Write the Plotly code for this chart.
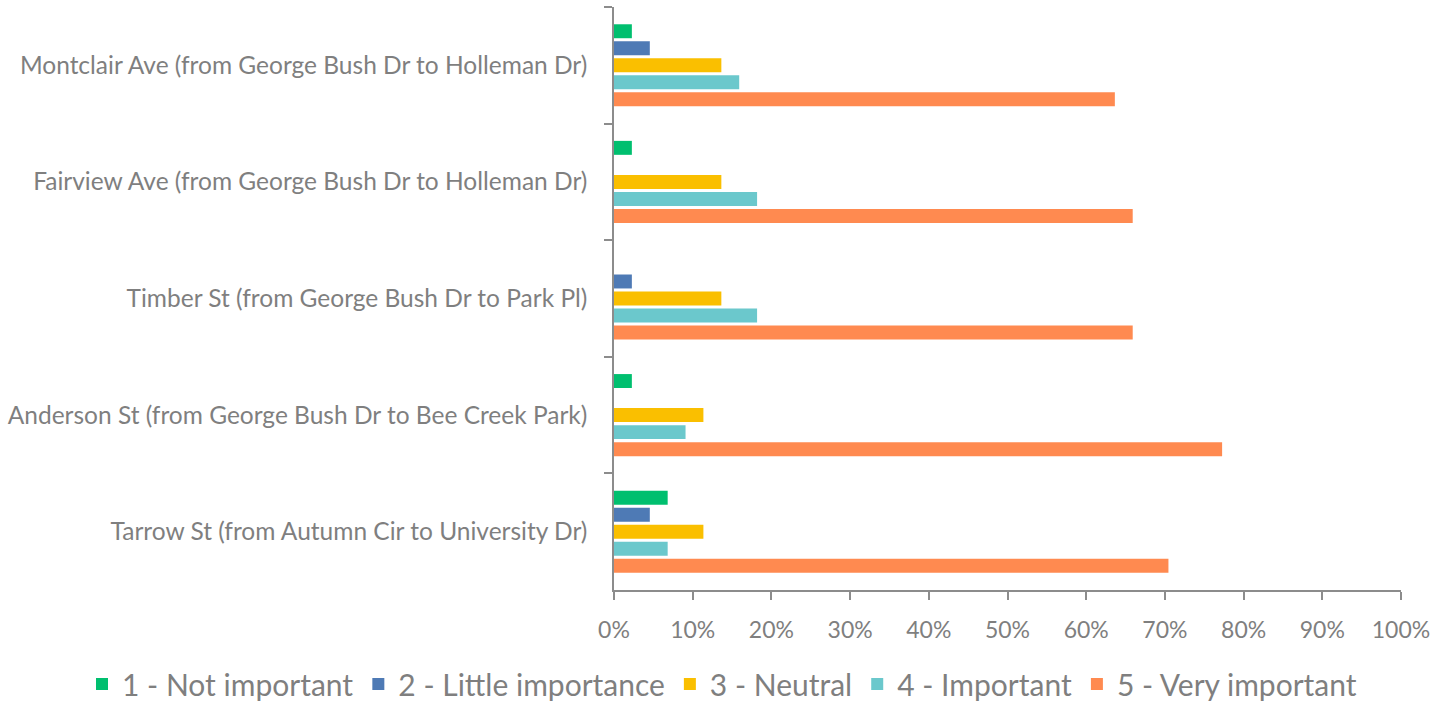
import plotly.graph_objects as go

categories = [
    "Montclair Ave (from George Bush Dr to Holleman Dr)",
    "Fairview Ave (from George Bush Dr to Holleman Dr)",
    "Timber St (from George Bush Dr to Park Pl)",
    "Anderson St (from George Bush Dr to Bee Creek Park)",
    "Tarrow St (from Autumn Cir to University Dr)",
]
series_names = ["1 - Not important", "2 - Little importance", "3 - Neutral",
                "4 - Important", "5 - Very important"]
not_important = [2.27, 2.27, 0.0, 2.27, 6.82]
little_importance = [4.55, 0.0, 2.27, 0.0, 4.55]
neutral = [13.64, 13.64, 13.64, 11.36, 11.36]
important = [15.91, 18.18, 18.18, 9.09, 6.82]
very_important = [63.64, 65.91, 65.91, 77.27, 70.45]
colors = ["#00BF6F", "#4E7AB5", "#FABF00", "#6BC8CC", "#FF8A50"]
tick_vals = [0, 10, 20, 30, 40, 50, 60, 70, 80, 90, 100]
tick_text = [f"{v}%" for v in tick_vals]

values = [not_important, little_importance, neutral, important, very_important]
gray = "#7F7F7F"
axis_gray = "#8C8C8C"
font_family = "Lato, 'Open Sans', sans-serif"

W, H = 1441, 703
L, R, T, B = 614, 40, 7, 113
plot_w = W - L - R
plot_h = H - T - B
legend_left_px = 82
legend_top_px = 658

fig = go.Figure()
for name, vals, col in zip(series_names, values, colors):
    fig.add_trace(go.Bar(
        y=categories, x=vals, name=name, orientation="h",
        marker=dict(color=col, line=dict(width=0)),
        hoverinfo="x+name",
    ))

fig.update_layout(
    width=W, height=H,
    template="none",
    barmode="group", bargap=0.27, bargroupgap=0.18,
    plot_bgcolor="white", paper_bgcolor="white",
    margin=dict(l=L, r=R, t=T, b=B, autoexpand=False),
    font=dict(family=font_family, color=gray, size=20),
    legend=dict(orientation="h", xref="paper", yref="paper",
                x=(legend_left_px - L) / plot_w, xanchor="left",
                y=-(legend_top_px - (T + plot_h)) / plot_h, yanchor="top",
                font=dict(size=30, color=gray), itemwidth=30,
                traceorder="normal"),
    xaxis=dict(range=[0, 100], tickvals=tick_vals, ticktext=tick_text,
               showgrid=False, zeroline=False, showline=True, automargin=False,
               linecolor=axis_gray, linewidth=1.5,
               ticks="outside", ticklen=8, tickcolor=axis_gray, tickwidth=1.5,
               tickfont=dict(size=23, color=gray), ticklabelstandoff=11),
    yaxis=dict(autorange="reversed", showgrid=False, zeroline=False,
               showline=True, automargin=False,
               linecolor=axis_gray, linewidth=1.5,
               ticks="outside", ticklen=8, tickcolor=axis_gray, tickwidth=1.5,
               tickson="boundaries", tickfont=dict(size=24.5, color=gray),
               ticklabelstandoff=20),
)

fig.write_html("out.html", config={"displayModeBar": False},
               post_script="document.body.style.margin='0';")
